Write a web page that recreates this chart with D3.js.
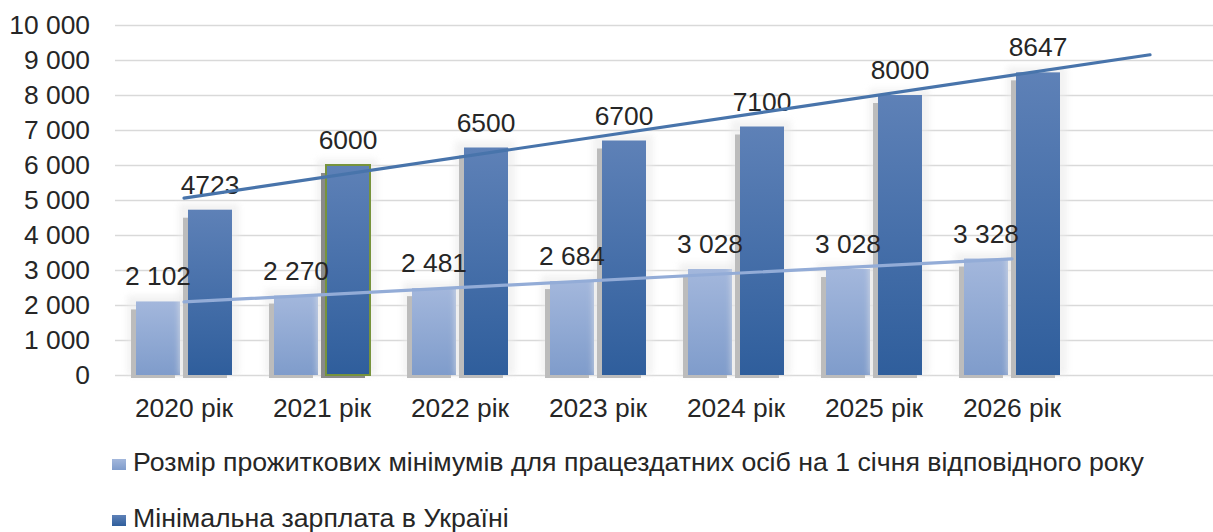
<!DOCTYPE html>
<html>
<head>
<meta charset="utf-8">
<script src="https://cdn.jsdelivr.net/npm/d3@7"></script>
<style>
  html, body { margin: 0; padding: 0; background: #fff; }
  svg { display: block; font-family: "Liberation Sans", Arial, sans-serif; }
</style>
</head>
<body>
<svg id="chart" width="1213" height="532"></svg>
<script>
// ---- data ----
const categories = ["2020 рік", "2021 рік", "2022 рік", "2023 рік", "2024 рік", "2025 рік", "2026 рік"];
const subsistence = [2102, 2270, 2481, 2684, 3028, 3028, 3328];
const minWage = [4723, 6000, 6500, 6700, 7100, 8000, 8647];
const seriesNames = [
  "Розмір прожиткових мінімумів для працездатних осіб на 1 січня відповідного року",
  "Мінімальна зарплата в Україні"
];
const yTicks = [0, 1000, 2000, 3000, 4000, 5000, 6000, 7000, 8000, 9000, 10000];
const forecastPeriods = [0, 1]; // trendline forward forecast per series

(function () {
// ---- layout ----
const svg = d3.select("#chart");
const mLeft = 115, mRight = 1219, mTop = 25, mBottom = 375;
const FONT = 26.4;
const textColor = "#262626";

const slots = d3.range(categories.length + 1); // one extra slot for the forecast
const x = d3.scaleBand().domain(slots).range([mLeft, mRight]).padding(0);
const inner = d3.scaleBand().domain([0, 1]).range([0, 96]).paddingInner(0.1538);
const innerOffset = (x.bandwidth() - 96) / 2;
const y = d3.scaleLinear().domain([0, 10000]).range([mBottom, mTop]);

const fmtSpace = v => d3.format(",")(v).replace(/,/g, " ");

// gradients
const defs = svg.append("defs");
function grad(id, c1, c2) {
  const g = defs.append("linearGradient").attr("id", id)
    .attr("x1", 0).attr("y1", 0).attr("x2", 0).attr("y2", 1);
  g.append("stop").attr("offset", "0%").attr("stop-color", c1);
  g.append("stop").attr("offset", "100%").attr("stop-color", c2);
}
grad("gLight", "#a3b7dc", "#7f9ccb");
grad("gDark", "#5e81b7", "#2f5e9c");
const fills = ["url(#gLight)", "url(#gDark)"];
const lineColors = ["#93acd7", "#4874ab"];

const blur = defs.append("filter").attr("id", "soft")
  .attr("x", "-50%").attr("y", "-50%").attr("width", "200%").attr("height", "200%");
blur.append("feGaussianBlur").attr("stdDeviation", 3);

// gridlines
svg.append("g").selectAll("line").data(yTicks).join("line")
  .attr("x1", mLeft).attr("x2", 1213)
  .attr("y1", d => Math.round(y(d)) + 0.5).attr("y2", d => Math.round(y(d)) + 0.5)
  .attr("stroke", "#d9d9d9").attr("stroke-width", 1.5);

// y axis labels
const yAxis = d3.axisLeft(y).tickValues(yTicks).tickFormat(fmtSpace).tickSize(0).tickPadding(0);
const yg = svg.append("g").attr("transform", "translate(90,0)").call(yAxis);
yg.select(".domain").remove();
yg.selectAll("text").attr("font-size", FONT).attr("fill", textColor)
  .attr("font-family", "Liberation Sans, Arial, sans-serif");

// x axis labels
const xAxis = d3.axisBottom(x).tickValues(d3.range(categories.length))
  .tickFormat(i => categories[i]).tickSize(0).tickPadding(0);
const xg = svg.append("g").attr("transform", `translate(0,${mBottom})`).call(xAxis);
xg.select(".domain").remove();
xg.selectAll("text").attr("font-size", FONT).attr("fill", textColor)
  .attr("dy", 0).attr("y", 42)
  .attr("font-family", "Liberation Sans, Arial, sans-serif");

// bars
const series = [subsistence, minWage];
const barLayer = svg.append("g");
const labelLayer = svg.append("g");
const bw = inner.bandwidth();
series.forEach((vals, s) => {
  const g = barLayer.append("g");
  const bx = i => x(i) + innerOffset + inner(s);
  g.selectAll("rect.glow").data(vals).join("rect").attr("class", "glow")
    .attr("x", (d, i) => bx(i) - 9).attr("width", bw + 16)
    .attr("y", d => y(d) - 6).attr("height", d => y(0) - y(d) + 6)
    .attr("fill", "#e9e9e9").attr("opacity", 0.6).attr("filter", "url(#soft)");
  g.selectAll("rect.sh").data(vals).join("rect").attr("class", "sh")
    .attr("x", (d, i) => bx(i) - 5).attr("width", bw)
    .attr("y", d => y(d) + 8).attr("height", d => y(0) - y(d) - 5)
    .attr("fill", (d, i) => (s === 1 && i === 1) ? "#8a8a8a" : "#bcbcbc");
  g.selectAll("rect.bar").data(vals).join("rect").attr("class", "bar")
    .attr("x", (d, i) => bx(i)).attr("width", bw)
    .attr("y", d => y(d)).attr("height", d => y(0) - y(d))
    .attr("fill", fills[s])
    .attr("stroke", (d, i) => (s === 1 && i === 1) ? "#77933c" : "none")
    .attr("stroke-width", 2);
  labelLayer.append("g").selectAll("text").data(vals).join("text")
    .attr("x", (d, i) => bx(i) + bw / 2).attr("y", d => y(d) - 16)
    .attr("text-anchor", "middle").attr("font-size", FONT).attr("fill", textColor)
    .text(d => s === 0 ? fmtSpace(d) : String(d));
});

// linear trendlines
function regression(vals) {
  const n = vals.length;
  const xs = d3.range(1, n + 1);
  const mx = d3.mean(xs), my = d3.mean(vals);
  const b = d3.sum(xs, (xi, k) => (xi - mx) * (vals[k] - my)) / d3.sum(xs, xi => (xi - mx) ** 2);
  const a = my - b * mx;
  return t => a + b * t;
}
const line = d3.line().x(d => d[0]).y(d => d[1]);
series.forEach((vals, s) => {
  const f = regression(vals);
  const pts = [1, vals.length + forecastPeriods[s]].map(t => [x(t - 1) + x.bandwidth() / 2, y(f(t))]);
  svg.append("path").attr("d", line(pts)).attr("fill", "none")
    .attr("stroke", lineColors[s]).attr("stroke-width", 3.2).attr("stroke-linecap", "round");
});

// legend
const legendY = [471, 527];
seriesNames.forEach((name, s) => {
  svg.append("rect").attr("x", 112).attr("y", legendY[s] - 12).attr("width", 14).attr("height", 11)
    .attr("fill", fills[s]);
  svg.append("text").attr("x", 133).attr("y", legendY[s])
    .attr("font-size", 26.7).attr("fill", textColor).text(name);
});
})();
</script>
</body>
</html>
